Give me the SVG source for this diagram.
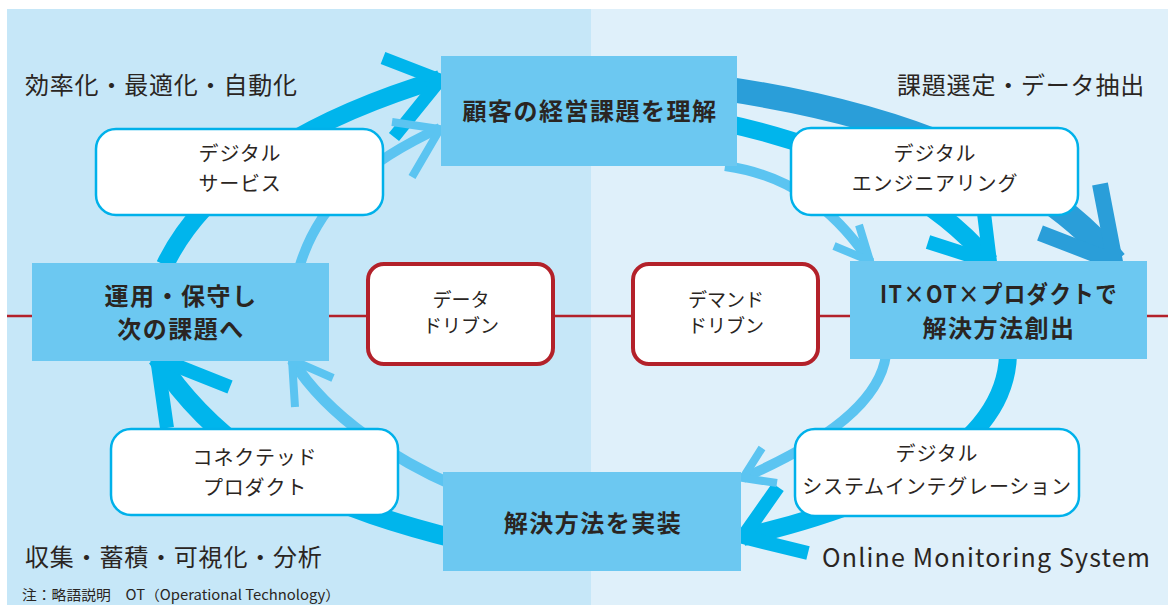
<svg xmlns="http://www.w3.org/2000/svg" width="1168" height="605" viewBox="0 0 1168 605">
<style>
.bgL{fill:#c6e7f8}
.bgR{fill:#dff0fa}
.main rect{fill:#6cc8f1}
.sub rect{fill:#fff;stroke:#00b1ea;stroke-width:2.5}
.red rect{fill:#fff;stroke:#b3212a;stroke-width:4}
text{font-family:"Noto Sans CJK JP","Noto Sans",sans-serif;fill:#2a2522}
.tm{font-size:24px;font-weight:700;text-anchor:middle;letter-spacing:1.5px}
.ts{font-size:20px;text-anchor:middle;letter-spacing:0.8px}
.tr{font-size:19px;text-anchor:middle}
.tc{font-size:24px;letter-spacing:0.8px}
.a{fill:none;stroke-linejoin:miter;stroke-miterlimit:10;stroke-linecap:butt}
.c1{stroke:#00b5ec}
.c2{stroke:#5bc4f1}
.c3{stroke:#2a9ed9}
</style>
<rect x="0" y="0" width="1168" height="605" fill="#fff"/>
<rect class="bgL" x="7" y="9" width="584" height="596"/>
<rect class="bgR" x="591" y="9" width="577" height="596"/>
<line x1="7" y1="316" x2="1168" y2="316" stroke="#b3212a" stroke-width="2.5"/>
<g id="connectors">
  <path class="a c1" stroke-width="18" d="M165,265 C210,170 330,112 440,79"/>
  <polyline class="a c1" stroke-width="13" points="383,58 440,80 394,137"/>
  <path class="a c2" stroke-width="10" d="M300,265 C320,200 370,160 440,128"/>
  <polyline class="a c2" stroke-width="8" points="392,122 440,129 412,177"/>
  <path class="a c3" stroke-width="25" d="M720,88 C900,114 1040,170 1115,262"/>
  <polyline class="a c3" stroke-width="16" points="1100,184 1115,262 1040,233"/>
  <path class="a c1" stroke-width="18" d="M720,122 C830,145 930,190 990,262"/>
  <polyline class="a c1" stroke-width="14" points="983,205 990,262 928,242"/>
  <path class="a c2" stroke-width="10" d="M725,166 C790,175 835,210 870,262"/>
  <polyline class="a c2" stroke-width="8" points="859,225 870,261 834,246"/>
  <path class="a c1" stroke-width="18" d="M1008,355 C1005,450 880,505 743,537"/>
  <polyline class="a c1" stroke-width="14" points="778,487 743,537 808,553"/>
  <path class="a c2" stroke-width="10" d="M886,355 C880,400 830,440 743,478"/>
  <polyline class="a c2" stroke-width="8" points="762,448 743,478 777,483"/>
  <path class="a c1" stroke-width="19" d="M460,540 C340,510 230,470 157,358"/>
  <polyline class="a c1" stroke-width="14" points="230,387 157,358 167,428"/>
  <path class="a c2" stroke-width="11" d="M455,486 C400,462 330,420 292,360"/>
  <polyline class="a c2" stroke-width="8" points="333,378 292,360 295,407"/>
</g>
<g id="n-top" class="main">
  <rect x="441" y="56" width="296" height="110"/>
  <text class="tm" x="590" y="120">顧客の経営課題を理解</text>
</g>
<g id="n-left" class="main">
  <rect x="32" y="263" width="297" height="98"/>
  <text class="tm" x="181" y="305">運用・保守し</text>
  <text class="tm" x="181" y="338">次の課題へ</text>
</g>
<g id="n-right" class="main">
  <rect x="850" y="261" width="297" height="98"/>
  <text class="tm" x="999" y="303" textLength="238" lengthAdjust="spacingAndGlyphs">IT×OT×プロダクトで</text>
  <text class="tm" x="999" y="337">解決方法創出</text>
</g>
<g id="n-bottom" class="main">
  <rect x="443" y="472" width="298" height="99"/>
  <text class="tm" x="593" y="532">解決方法を実装</text>
</g>
<g id="n-service" class="sub">
  <rect x="96" y="129" width="287" height="86" rx="20"/>
  <text class="ts" x="240" y="161">デジタル</text>
  <text class="ts" x="240" y="191">サービス</text>
</g>
<g id="n-engineering" class="sub">
  <rect x="791" y="128" width="287" height="87" rx="20"/>
  <text class="ts" x="935" y="161">デジタル</text>
  <text class="ts" x="935" y="191">エンジニアリング</text>
</g>
<g id="n-connected" class="sub">
  <rect x="111" y="429" width="287" height="86" rx="20"/>
  <text class="ts" x="255" y="465">コネクテッド</text>
  <text class="ts" x="255" y="495">プロダクト</text>
</g>
<g id="n-si" class="sub">
  <rect x="795" y="429" width="284" height="87" rx="20"/>
  <text class="ts" x="937" y="461">デジタル</text>
  <text class="ts" x="937" y="494">システムインテグレーション</text>
</g>
<g id="n-data" class="red">
  <rect x="368" y="264" width="185" height="100" rx="16"/>
  <text class="tr" x="461" y="307">データ</text>
  <text class="tr" x="461" y="333">ドリブン</text>
</g>
<g id="n-demand" class="red">
  <rect x="633" y="264" width="185" height="100" rx="16"/>
  <text class="tr" x="726" y="307">デマンド</text>
  <text class="tr" x="726" y="333">ドリブン</text>
</g>
<g id="labels">
  <text class="tc" x="25" y="94">効率化・最適化・自動化</text>
  <text class="tc" x="897" y="94">課題選定・データ抽出</text>
  <text class="tc" x="25" y="566">収集・蓄積・可視化・分析</text>
  <text x="822" y="567" font-family="'Open Sans','Noto Sans',sans-serif" font-size="25" textLength="328" lengthAdjust="spacing">Online Monitoring System</text>
  <text x="22" y="600" font-size="14" textLength="318" lengthAdjust="spacingAndGlyphs">注：略語説明　OT（Operational Technology）</text>
</g>
</svg>
